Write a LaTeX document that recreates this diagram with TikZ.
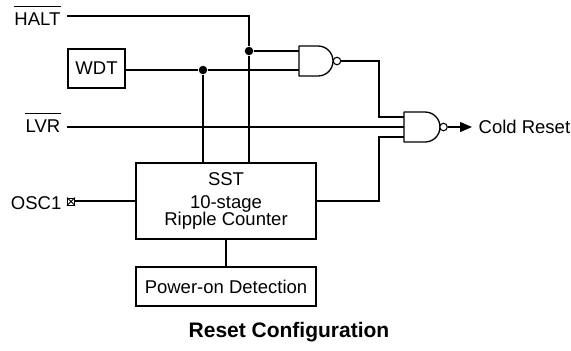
\documentclass[tikz,border=0pt]{standalone}
\usepackage{fontspec}
\setmainfont{Liberation Sans}
\usetikzlibrary{arrows.meta}
\begin{document}
\begin{tikzpicture}[x=1bp,y=-1bp,line width=1.3bp,
  lbl/.style={font=\fontsize{18.5bp}{20bp}\selectfont,inner sep=0pt},
  blk/.style={draw,line width=1.3bp,inner sep=0pt,font=\fontsize{18.5bp}{20bp}\selectfont,align=center},
  jdot/.style={circle,fill,inner sep=0pt,minimum size=8.5bp},
  gate/.style={draw,line width=1.3bp,line join=round},
  bub/.style={draw,line width=1.1bp,fill=white,circle,inner sep=0pt,minimum size=7.5bp},
  ovl/.style={line width=1bp}]
\useasboundingbox (0,0) rectangle (571,350);
% labels
\node[lbl,anchor=base east] (halt) at (61,25) {HALT};
\draw[ovl] ([yshift=5.5bp]halt.north west) -- ([yshift=5.5bp]halt.north east);
\node[lbl,anchor=base east] (lvr) at (61,132) {LVR};
\draw[ovl] ([yshift=5.5bp]lvr.north west) -- ([yshift=5.5bp]lvr.north east);
\node[lbl,anchor=base east] (osc) at (62,209) {OSC1};
% blocks
\node[blk,minimum width=57bp,minimum height=39bp] (wdt) at (96.5,68.5) {WDT};
\node[blk,minimum width=180bp,minimum height=76bp] (cnt) at (226,201) {SST\\[3bp]10-stage\\[-3bp]Ripple Counter};
\node[blk,minimum width=180bp,minimum height=39bp] (pod) at (226,286.5) {Power-on Detection};
% pin symbol
\node[draw,line width=1bp,minimum size=7bp,inner sep=0pt] (pin) at (71,201.5) {};
\draw[line width=0.8bp] (pin.north west) -- (pin.south east) (pin.north east) -- (pin.south west);
% NAND1
\draw[gate] (299,46) -- (318,46) arc[start angle=-90,end angle=90,radius=15] -- (299,76) -- cycle;
\node[bub] (b1) at (337,61) {};
\coordinate (n1a) at (299,51);
\coordinate (n1b) at (299,70);
% NAND2
\draw[gate] (404,112) -- (425,112) arc[start angle=-90,end angle=90,radius=15] -- (404,142) -- cycle;
\node[bub] (b2) at (443.5,127) {};
\coordinate (n2a) at (404,117);
\coordinate (n2b) at (404,127);
\coordinate (n2c) at (404,137);
% junctions
\node[jdot] (j1) at (249,51) {};
\node[jdot] (j2) at (203,70) {};
% output
\node[lbl,anchor=west] (cold) at (478,126.5) {Cold Reset};
\coordinate (tip) at (472,127);
% wires
\draw (67,16) coordinate (h0) -- (249,16) -- (j1) -- (cnt.north -| j1);
\draw (j1) -- (n1a);
\draw (wdt.east |- n1b) -- (j2) -- (n1b);
\draw (j2) -- (cnt.north -| j2);
\draw (67,127) coordinate (l0) -- (n2b);
\draw (b1.east) -- (379,61) -- (379,117) -- (n2a);
\draw (cnt.east) -- (379,201) -- (379,137) -- (n2c);
\draw (pin.east |- cnt.west) -- (cnt.west);
\draw (cnt.south) -- (pod.north);
\draw[-{Triangle[length=12bp,width=10bp]}] (b2.east) -- (tip);
% caption
\node[font=\fontsize{21bp}{24bp}\selectfont\bfseries,inner sep=0pt] (cap) at (289,332) {Reset Configuration};
\end{tikzpicture}
\end{document}
